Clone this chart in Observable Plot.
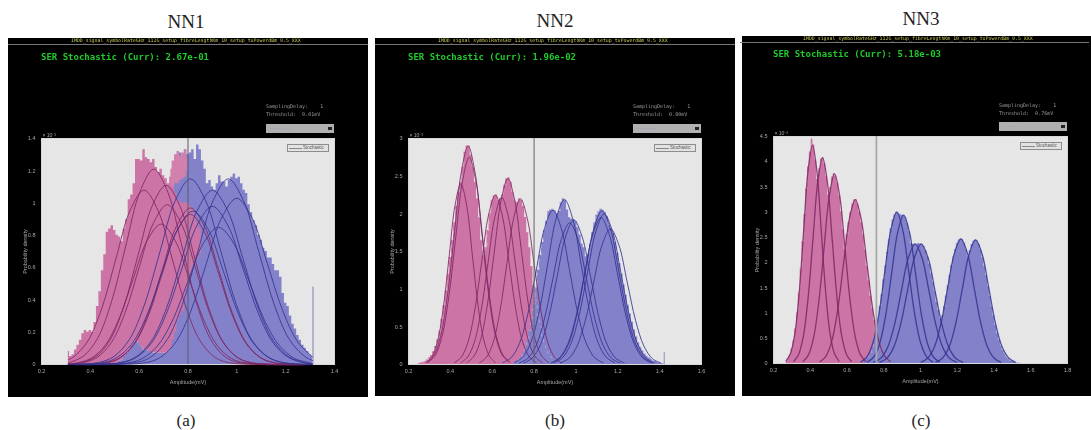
<!DOCTYPE html>
<html><head><meta charset="utf-8">
<script src="https://cdn.jsdelivr.net/npm/d3@7"></script>
<script src="https://cdn.jsdelivr.net/npm/@observablehq/plot@0.6"></script>
<style>
html,body{margin:0;padding:0;background:#fff;width:1091px;height:430px;overflow:hidden}
#stage{position:relative;width:1091px;height:430px;overflow:hidden}
.hd{position:absolute;font-family:"Liberation Serif",serif;color:#222;transform:translateX(-50%);white-space:nowrap;line-height:1}
.box{position:absolute;box-sizing:border-box;filter:blur(.4px)}
.mono{position:absolute;font-family:"DejaVu Sans Mono",monospace;white-space:pre;line-height:1;filter:blur(.3px)}
svg{filter:blur(.45px)}
</style></head><body><div id="stage"></div>
<script>
// ---------- Text ----------
const titles = ["NN1","NN2","NN3"];
const captions = ["(a)","(b)","(c)"];
const serText = ["SER Stochastic (Curr): 2.67e-01","SER Stochastic (Curr): 1.96e-02","SER Stochastic (Curr): 5.18e-03"];
const thresholds = ["Threshold:  0.01mV","Threshold:  0.80mV","Threshold:  0.76mV"];
const runTitle = "IMDD_signal_symbolRateGHz_112G_setup_fibreLengthKm_10_setup_txPowerdBm_9.5_XXX";

// ---------- Panel (a): histogram outlines, bins of 0.01 ----------
const aPinkStart = 0.31;
const aPinkTop = [.08,.05,.06,.09,.12,.15,.19,.21,.20,.21,.20,.26,.36,.45,.58,.68,.82,.84,.86,.83,.80,.79,.76,.84,.90,1.02,1.05,1.12,1.27,1.27,1.26,1.33,1.28,1.27,1.25,1.27,1.22,1.19,1.21,1.17,1.15,1.12,1.16,1.13,1.06,1.02,1.0,1.0,1.0,1.0,.98,.96,.92,.88,.84,.78];
const aPinkBottom = [0,0,0,0,0,0,0,0,0,0,0,0,0,0,0,0,0,0,0,0,.01,.02,.03,.05,.07,.09,.12,.14,.15,.13,.11,.09,.09,.08,.08,.07,.07,.07,.07,.07,.07,.08,.10,.15,.20,.27,.30,.33,.40,.47,.52,.59,.62,.65,.68,.78];
const aPatchStart = 0.73;
const aPatchTop = [1.21,1.26,1.30,1.32,1.29,1.31,1.33,1.28];
const aPatchBottom = [1.1,1.1,1.12,1.12,1.14,1.15,1.16,1.2];
const aBlueStart = 0.51;
const aBlueTop = [.01,.02,.03,.05,.07,.09,.12,.14,.15,.13,.11,.09,.09,.08,.08,.07,.07,.07,.07,.07,.07,.08,1.0,1.2,1.28,1.3,1.31,1.29,1.33,1.3,1.31,1.33,1.27,1.36,1.33,1.26,1.21,1.12,1.14,1.10,1.08,1.12,1.17,1.13,1.13,1.10,1.14,1.16,1.18,1.15,1.16,1.12,1.08,1.06,.99,.94,.89,.86,.80,.77,.72,.70,.66,.66,.62,.58,.58,.54,.44,.38,.36,.30,.25,.22,.18,.15,.12,.10,.08,.06,.05];
const aSpike = [1.312,.48];
// each fitted curve: [value at left cut, value at right cut, first x, x step, readings]
const aPinkCurves = [
 [.012,0,.315,.0575,[.013,.053,.163,.393,.734,1.067,1.21,1.067,.734,.393,.163,.053,.013]],
 [.03,0,.275,.0575,[.012,.048,.146,.351,.656,.953,1.08,.953,.656,.351,.146,.048,.012]],
 [.003,0,.365,.0575,[.012,.049,.15,.361,.674,.979,1.11,.979,.674,.361,.15,.049,.012]],
 [.003,0,.37,.0575,[.011,.044,.134,.322,.601,.873,.99,.873,.601,.322,.134,.044,.011]],
 [.004,0,.345,.0575,[.01,.038,.117,.283,.528,.767,.87,.767,.528,.283,.117,.038,.01]],
 [0,0,.465,.0575,[.011,.043,.131,.315,.589,.856,.97,.856,.589,.315,.131,.043,.011]],
 [0,0,.465,.0575,[.01,.041,.126,.302,.565,.82,.93,.82,.565,.302,.126,.041,.01]]
];
const aBlueCurves = [
 [0,0,.435,.0625,[.013,.051,.155,.374,.698,1.014,1.15,1.014,.698,.374,.155,.051,.013]],
 [0,.003,.525,.0625,[.012,.048,.146,.351,.656,.953,1.08,.953,.656,.351,.146,.048,.012]],
 [0,.002,.525,.0625,[.011,.043,.132,.319,.595,.864,.98,.864,.595,.319,.132,.043,.011]],
 [0,.002,.55,.0625,[.009,.037,.115,.276,.516,.75,.85,.75,.516,.276,.115,.037,.009]],
 [0,.025,.59,.0625,[.013,.051,.155,.374,.698,1.014,1.15,1.014,.698,.374,.155,.051,.013]],
 [0,.047,.625,.0625,[.011,.045,.139,.335,.625,.908,1.03,.908,.625,.335,.139,.045,.011]],
 [0,0,.445,.0625,[.01,.042,.128,.309,.577,.838,.95,.838,.577,.309,.128,.042,.01]]
];

// ---------- Panel (b) ----------
const bPinkStart = 0.24;
const bPinkTop = [0,.01,.02,.03,.04,.06,.09,.12,.17,.24,.33,.44,.6,.78,.98,1.2,1.42,1.65,1.88,2.1,2.28,2.42,2.62,2.82,2.9,2.9,2.78,2.62,2.42,2.2,1.95,1.65,1.45,1.55,1.78,2.0,2.18,2.24,2.25,2.18,2.2,2.25,2.38,2.47,2.48,2.42,2.28,2.18,2.15,2.2,2.18,2.1,1.95,1.75,1.55,1.3,1.05,.85,.65,.5,.38,.28,.2,.15,.1,.07,.04,.02,.01];
const bBlueStart = 0.70;
const bBlueTop = [.02,.03,.05,.07,.1,.15,.22,.32,.45,.6,.8,1.02,1.25,1.45,1.62,1.78,1.9,2.03,2.05,2.06,2.04,2.0,2.03,2.15,2.2,2.18,2.05,1.95,1.93,1.92,1.9,1.82,1.72,1.6,1.55,1.43,1.46,1.6,1.75,1.88,1.98,2.03,2.06,2.05,2.02,1.96,1.85,1.8,1.74,1.62,1.48,1.34,1.2,1.06,.92,.79,.67,.56,.46,.37,.29,.23,.18,.14,.11,.09,.07,.05,.04,.03,.02,.01,.01];
const bSpike = [1.422,.16];
const bPinkCurves = [
 [.285,.0275,[.026,.106,.324,.78,1.457,2.117,2.4,2.117,1.457,.78,.324,.106,.026]],
 [.29,.0325,[.032,.128,.392,.943,1.76,2.558,2.9,2.558,1.76,.943,.392,.128,.032]],
 [.295,.0325,[.03,.121,.371,.894,1.669,2.426,2.75,2.426,1.669,.894,.371,.121,.03]],
 [.42,.0325,[.025,.099,.304,.731,1.366,1.985,2.25,1.985,1.366,.731,.304,.099,.025]],
 [.45,.0325,[.024,.098,.3,.722,1.348,1.958,2.22,1.958,1.348,.722,.3,.098,.024]],
 [.48,.0325,[.027,.109,.333,.803,1.499,2.179,2.47,2.179,1.499,.803,.333,.109,.027]],
 [.54,.0325,[.024,.097,.297,.715,1.335,1.94,2.2,1.94,1.335,.715,.297,.097,.024]]
];
const bBlueCurves = [
 [.65,.04,[.023,.09,.277,.666,1.244,1.808,2.05,1.808,1.244,.666,.277,.09,.023]],
 [.705,.04,[.024,.096,.296,.712,1.329,1.932,2.19,1.932,1.329,.712,.296,.096,.024]],
 [.73,.04,[.021,.083,.254,.611,1.141,1.658,1.88,1.658,1.141,.611,.254,.083,.021]],
 [.75,.04,[.021,.084,.259,.624,1.165,1.693,1.92,1.693,1.165,.624,.259,.084,.021]],
 [.885,.04,[.022,.09,.275,.663,1.238,1.799,2.04,1.799,1.238,.663,.275,.09,.022]],
 [.895,.04,[.022,.088,.27,.65,1.214,1.764,2.0,1.764,1.214,.65,.27,.088,.022]],
 [.925,.04,[.02,.079,.243,.585,1.093,1.588,1.8,1.588,1.093,.585,.243,.079,.02]],
 [.88,.04,[.021,.086,.263,.634,1.184,1.72,1.95,1.72,1.184,.634,.263,.086,.021]]
];

// ---------- Panel (c) ----------
const cPinkStart = 0.27;
const cPinkTop = [.05,.1,.17,.29,.45,.69,1.0,1.4,1.88,2.42,2.95,3.47,3.9,4.2,4.45,4.33,4.03,3.65,3.86,4.05,4.08,3.96,3.7,3.34,3.49,3.7,3.76,3.72,3.58,3.33,3.01,2.65,2.25,2.55,2.79,3.0,3.16,3.24,3.25,3.16,3.0,2.79,2.55,2.25,1.93,1.64,1.34,1.09,.85,.64,.48,.35,.25,.17,.12,.08,.05,.03];
const cBlueStart = 0.69;
const cBlueTop = [.06,.08,.11,.15,.21,.3,.53,.7,.9,1.13,1.37,1.66,1.93,2.2,2.46,2.67,2.85,2.95,3.0,2.98,2.96,2.94,2.94,2.9,2.78,2.61,2.38,2.36,2.37,2.36,2.38,2.37,2.36,2.32,2.24,2.11,1.97,1.79,1.61,1.42,1.22,1.05,.88,.94,1.13,1.34,1.54,1.75,1.95,2.11,2.26,2.38,2.45,2.47,2.45,2.38,2.26,2.11,2.24,2.36,2.43,2.45,2.43,2.36,2.24,2.09,1.93,1.74,1.53,1.33,1.13,.94,.76,.6,.47,.35,.26,.19,.13,.09,.06,.04,.03,.02,.01,.01];
const cPinkCurves = [
 [.268,.024,[.048,.191,.585,1.407,2.628,3.819,4.33,3.819,2.628,1.407,.585,.191,.048]],
 [.311,.026,[.045,.18,.551,1.326,2.477,3.599,4.08,3.599,2.477,1.326,.551,.18,.045]],
 [.361,.0285,[.041,.165,.508,1.222,2.282,3.316,3.76,3.316,2.282,1.222,.508,.165,.041]],
 [.453,.032,[.036,.143,.439,1.056,1.973,2.867,3.25,2.867,1.973,1.056,.439,.143,.036]]
];
const cBlueCurves = [
 [.676,.0325,[.033,.132,.405,.975,1.821,2.646,3.0,2.646,1.821,.975,.405,.132,.033]],
 [.713,.0325,[.032,.129,.397,.956,1.785,2.593,2.94,2.593,1.785,.956,.397,.129,.032]],
 [.746,.0375,[.026,.104,.32,.77,1.439,2.09,2.37,2.09,1.439,.77,.32,.104,.026]],
 [.779,.0375,[.026,.104,.32,.77,1.439,2.09,2.37,2.09,1.439,.77,.32,.104,.026]],
 [1.004,.036,[.027,.109,.333,.803,1.499,2.179,2.47,2.179,1.499,.803,.333,.109,.027]],
 [1.084,.036,[.027,.108,.331,.796,1.487,2.161,2.45,2.161,1.487,.796,.331,.108,.027]]
];

// ---------- Axes ----------
const aXTicks = [.2,.4,.6,.8,1,1.2,1.4], aYTicks = [0,.2,.4,.6,.8,1,1.2,1.4];
const bXTicks = [.2,.4,.6,.8,1,1.2,1.4,1.6], bYTicks = [0,.5,1,1.5,2,2.5,3];
const cXTicks = [.2,.4,.6,.8,1,1.2,1.4,1.6,1.8], cYTicks = [0,.5,1,1.5,2,2.5,3,3.5,4,4.5];
const thresholdX = [.8,.8,.76];

// ---------- Colours ----------
const PINK="#cd74a6", BLUE="#8381ca", PINKLINE="#7d2763", BLUELINE="#34348f", PAPER="#e6e6e6", AXIS="#a8a8a8";

// ---------- Helpers ----------
const bins = (start, tops, bottoms) => tops.map((t,i)=>({x:start+i*.01, y:t, y0: bottoms? bottoms[i]:0}));
const curvePts = rows => rows.flatMap(([x0,dx,v],id)=>v.map((y,i)=>({x:x0+i*dx,y,id})));
const cutPts = (rows,lo,hi) => rows.flatMap(([l,r,x0,dx,v],id)=>[
  {x:lo,y:l,id},
  ...v.map((y,i)=>({x:x0+i*dx,y,id})).filter(d=>d.x>lo && d.x<hi),
  {x:hi,y:r,id}]);
const hist = (d,fill)=>Plot.areaY(d,{x:"x",y1:"y0",y2:"y",curve:"step",fill});
const fits = (d,stroke,w)=>Plot.line(d,{x:"x",y:"y",z:"id",curve:"catmull-rom",stroke,strokeWidth:w,strokeOpacity:.85});
const edge = d=>Plot.line(d,{x:"x",y:"y",curve:"step",stroke:"#f0e8f0",strokeWidth:.7,strokeDasharray:"2 6",strokeOpacity:.55});

const stage=document.getElementById("stage");
function panel(o){
  const p=Plot.plot({
    width:o.w,height:o.h,marginLeft:o.ml,marginRight:o.mr,marginTop:o.mt,marginBottom:o.mb,
    style:{background:"#000",color:AXIS,fontSize:"5px",fontFamily:"Liberation Sans, sans-serif",position:"absolute",left:o.l+"px",top:o.t+"px"},
    x:{domain:o.xd,label:null},y:{domain:o.yd,label:null},
    marks:[
      Plot.frame({fill:PAPER,stroke:"#d8d8d8"}),
      ...o.marks,
      Plot.ruleX([o.th],{stroke:o.thC,strokeWidth:o.thW}),
      Plot.axisX({ticks:o.xt,tickFormat:d=>String(d),tickSize:0,tickPadding:5,label:"Amplitude(mV)",labelAnchor:"center",labelOffset:19,labelArrow:"none",fontSize:5.5}),
      Plot.axisY({ticks:o.yt,tickFormat:d=>String(d),tickSize:0,tickPadding:6,label:"Probability density",labelAnchor:"center",labelOffset:18,labelArrow:"none",fontSize:5.5}),
      Plot.text(["× 10\u207B\u00B3"],{frameAnchor:"top-left",dy:-5,dx:1,fontSize:5,fill:AXIS,textAnchor:"start"})
    ]});
  stage.appendChild(p);
}

panel({l:8,t:38,w:360,h:359,ml:33,mr:34,mt:100,mb:33,xd:[.2,1.4],yd:[0,1.4],xt:aXTicks,yt:aYTicks,th:thresholdX[0],thC:"#5a5a6a",thW:1,marks:[
  hist(bins(aBlueStart,aBlueTop),BLUE),
  hist(bins(aPinkStart,aPinkTop,aPinkBottom),PINK),
  hist(bins(aPatchStart,aPatchTop,aPatchBottom),"#d281ad"),
  Plot.ruleX([aSpike[0]],{y1:0,y2:aSpike[1],stroke:"#8f8fc4",strokeWidth:1.2}),
  fits(cutPts(aPinkCurves,.31,1.31),PINKLINE,1),
  fits(cutPts(aBlueCurves,.31,1.31),BLUELINE,1)
]});
panel({l:375,t:38,w:360,h:358,ml:33,mr:34,mt:100,mb:32,xd:[.2,1.6],yd:[0,3],xt:bXTicks,yt:bYTicks,th:thresholdX[1],thC:"#666",thW:1,marks:[
  hist(bins(bPinkStart,bPinkTop),PINK),
  hist(bins(bBlueStart,bBlueTop),BLUE),
  Plot.ruleX([bSpike[0]],{y1:0,y2:bSpike[1],stroke:"#8f8fc4",strokeWidth:1}),
  edge(bins(bPinkStart,bPinkTop)),edge(bins(bBlueStart,bBlueTop)),
  fits(curvePts(bPinkCurves),PINKLINE,1),
  fits(curvePts(bBlueCurves),BLUELINE,1)
]});
panel({l:742,t:36,w:349,h:360,ml:31,mr:24,mt:100,mb:33,xd:[.2,1.8],yd:[0,4.5],xt:cXTicks,yt:cYTicks,th:thresholdX[2],thC:"#a9a9a9",thW:1.8,marks:[
  hist(bins(cPinkStart,cPinkTop),PINK),
  hist(bins(cBlueStart,cBlueTop),BLUE),
  edge(bins(cPinkStart,cPinkTop)),edge(bins(cBlueStart,cBlueTop)),
  fits(curvePts(cPinkCurves),PINKLINE,1.3),
  fits(curvePts(cBlueCurves),BLUELINE,1.3)
]});

// ---------- Page furniture around the three plots ----------
const add=(cls,css,txt="")=>{const e=document.createElement("div");e.className=cls;e.style.cssText=css;e.textContent=txt;stage.appendChild(e);return e;};
const cx=[186,555,921], titleY=[12,11,9], frameX=[41,408,773], rightX=[334,701,1067], barY=[44,44,42], ySer=[53,53,50], ySamp=[104,104,103], yDrop=[124,124,122], yLeg=[144,144,142];
titles.forEach((t,i)=>add("hd",`left:${cx[i]}px;top:${titleY[i]}px;font-size:19px`,t));
captions.forEach((t,i)=>add("hd",`left:${cx[i]}px;top:${412}px;font-size:17px`,t));
for(let i=0;i<3;i++){
  add("box",`left:${frameX[i]-33}px;top:${barY[i]}px;width:${i==2?349:360}px;height:1px;background:#777`);
  add("mono",`left:${frameX[i]+30}px;top:${barY[i]-6}px;font-size:4.9px;color:#c9c95a`,runTitle);
  add("mono",`left:${frameX[i]}px;top:${ySer[i]}px;font-size:9px;font-weight:bold;color:#1ecb2a`,serText[i]);
  add("mono",`left:${rightX[i]-68}px;top:${ySamp[i]}px;font-size:5px;color:#9a9a9a`,"SamplingDelay:    1");
  add("mono",`left:${rightX[i]-68}px;top:${ySamp[i]+7.5}px;font-size:5px;color:#9a9a9a`,thresholds[i]);
  add("box",`left:${rightX[i]-68}px;top:${yDrop[i]}px;width:68px;height:9px;background:#b0b0b0`);
  add("mono",`left:${rightX[i]-65}px;top:${yDrop[i]+2}px;font-size:5px;color:#8a8ac0`,"-------");
  add("box",`left:${rightX[i]-6}px;top:${yDrop[i]+3}px;width:4px;height:3px;background:#222`);
  add("box",`left:${rightX[i]-47}px;top:${yLeg[i]}px;width:42px;height:8px;background:#e2e2e2;border:1px solid #8d8d8d`);
  add("box",`left:${rightX[i]-45}px;top:${yLeg[i]+4}px;width:13px;height:1px;background:#888`);
  add("mono",`left:${rightX[i]-31}px;top:${yLeg[i]+2}px;font-size:4.5px;color:#555;font-family:'Liberation Sans',sans-serif`,"Stochastic");
}
</script></body></html>
